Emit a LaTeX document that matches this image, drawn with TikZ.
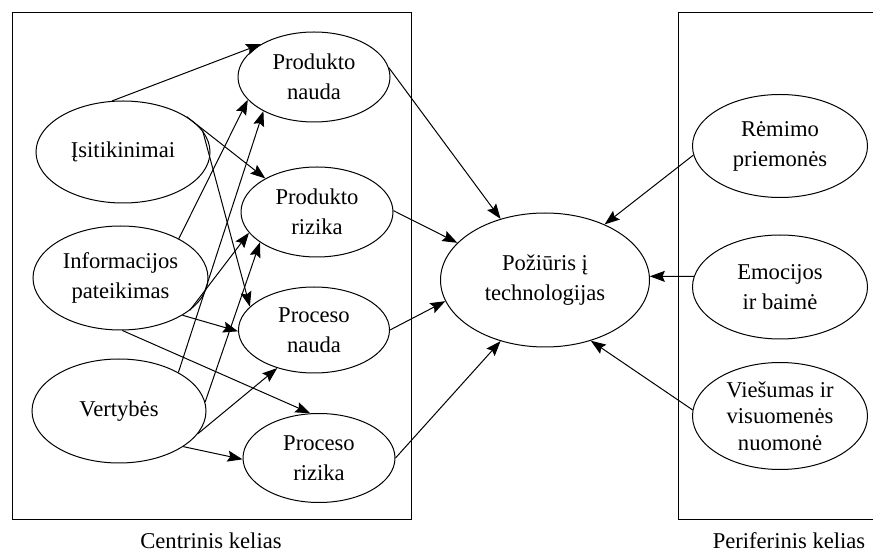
\documentclass[tikz,border=0pt]{standalone}
\usepackage{fontspec}
\setmainfont{Liberation Serif}
\usetikzlibrary{shapes.geometric,arrows.meta}

\begin{document}
\begin{tikzpicture}[x=0.5pt,y=-0.5pt,line width=0.5pt,
    font=\fontsize{11.3}{15}\selectfont,
    oval/.style={draw,ellipse,inner sep=0pt,align=center},
    arr/.style={-{Stealth[length=7.5pt,width=5.5pt,inset=1.2pt]}}]
      \useasboundingbox (0,0) rectangle (873,555);

      % the two paths
      \draw (12,13) rectangle (411,520);
      \draw (885,13) -- (678,13) -- (678,520) -- (885,520);
      \node (Lc) at (211,541) {Centrinis kelias};
      \node (Lp) at (789,541) {Periferinis kelias};

      \node[oval,minimum width=87pt,minimum height=51pt] (B1) at (123,152) {Įsitikinimai};
      \node[oval,minimum width=87.5pt,minimum height=52pt] (B2) at (120.5,278) {Informacijos\\pateikimas};
      \node[oval,minimum width=87pt,minimum height=52pt] (B3) at (119,411) {Vertybės};

      \node[oval,minimum width=76pt,minimum height=45pt] (M1) at (314,77) {Produkto\\nauda};
      \node[oval,minimum width=76pt,minimum height=45pt] (M2) at (317,212) {Produkto\\rizika};
      \node[oval,minimum width=75.5pt,minimum height=43pt] (M3) at (314,330) {Proceso\\nauda};
      \node[oval,minimum width=76pt,minimum height=44.5pt] (M4) at (319,458) {Proceso\\rizika};

      \node[oval,minimum width=104.5pt,minimum height=67pt] (P) at (545,280) {Požiūris į\\technologijas};

      \node[oval,minimum width=87.5pt,minimum height=51.5pt] (R1) at (780,146) {Rėmimo\\priemonės};
      \node[oval,minimum width=87.5pt,minimum height=52pt] (R2) at (780,287) {Emocijos\\ir baimė};
      \node[oval,minimum width=87.5pt,minimum height=53.5pt,font=\fontsize{11.3}{13.3}\selectfont] (R3) at (780,416) {Viešumas ir\\visuomenės\\nuomonė};

      % central route
      \draw[arr] (B1.102) -- (M1.148);
      \draw[arr] (B1.29) -- (M2.147);
      \draw[arr] (B1.15) -- (M3.160);
      \draw[arr] (B2.34) -- (M1.199);
      \draw[arr] (B2.-25) -- (M2.197);
      \draw[arr] (B2.-31) -- (M3.181);
      \draw[arr] (B2.-88) -- (M4.101);
      \draw[arr] (B3.33) -- (M1.214);
      \draw[arr] (B3.6) -- (M2.208);
      \draw[arr] (B3.-16) -- (M3.226);
      \draw[arr] (B3.-29) -- (M4.181);

      \foreach \m/\a/\b in {M1/7/126,M2/1/157,M3/0/192,M4/0/234}{
        \draw[arr] (\m.\a) -- (P.\b);
      }

      % peripheral route
      \draw[arr] (R1.186) -- (P.43);
      \draw[arr] (R2.173) -- (P.2);
      \draw[arr] (R3.176) -- (P.-53);
    \end{tikzpicture}
\end{document}
